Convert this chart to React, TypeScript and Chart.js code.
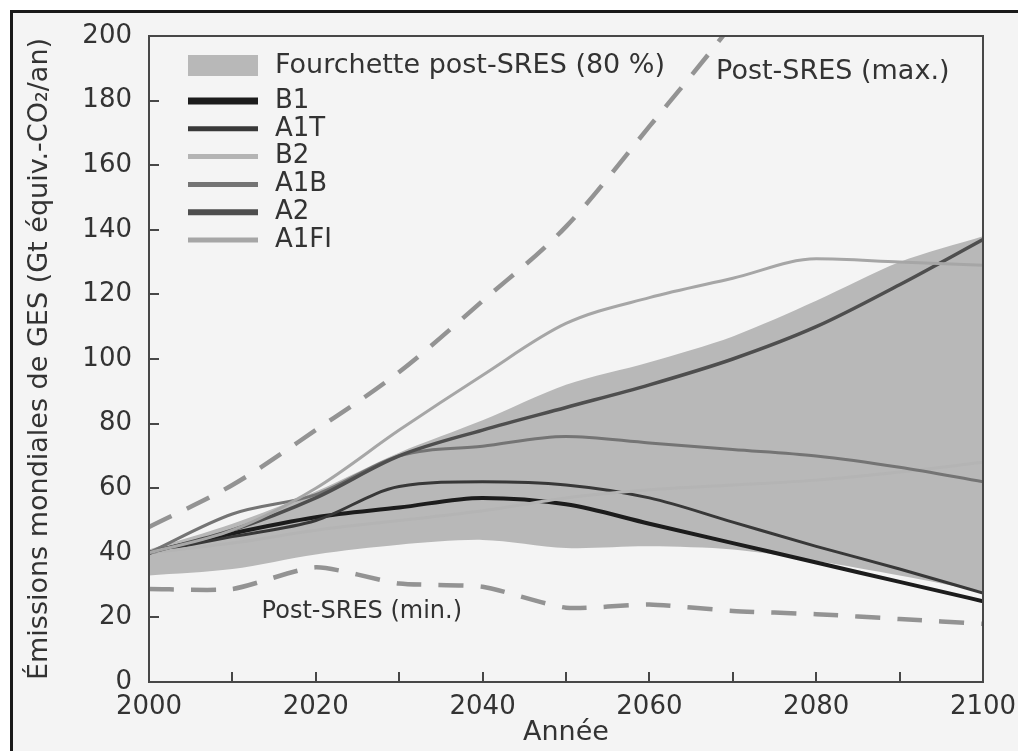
import React, { useEffect, useRef } from "react";
import { Chart, registerables } from "chart.js";

Chart.register(...registerables);

// ---------- data ----------
const years = [2000, 2010, 2020, 2030, 2040, 2050, 2060, 2070, 2080, 2090, 2100];
const bandLower = [33, 35, 39.5, 42.5, 44, 41.5, 42, 41, 37.5, 33, 28];
const bandUpper = [41, 49, 59, 71, 81, 92, 99, 107, 118, 130, 138];
const postSresMax = [48, 61, 78, 96, 118, 141, 172, 204, 240, 280, 320];
const postSresMin = [28.8, 28.8, 35.5, 30.5, 29.5, 23, 24, 22, 21, 19.5, 18];
const b1 = [40, 46, 51, 54, 57, 55, 49, 43, 37, 31, 25];
const a1t = [40, 45, 50, 60.5, 62, 61, 57, 49.5, 42, 35, 27.5];
const b2 = [40, 43, 47, 50, 53, 57, 59.5, 61, 62.5, 65, 68];
const a1b = [40, 52, 58, 70, 73, 76, 74, 72, 70, 66.5, 62];
const a2 = [40, 47, 57, 70, 78, 85, 92, 100, 110, 123, 137];
const a1fi = [40, 47, 60, 78, 95, 111, 119, 125, 131, 130, 129];

const scenarioNames = ["B1", "A1T", "B2", "A1B", "A2", "A1FI"];
const scenarioValues = [b1, a1t, b2, a1b, a2, a1fi];
const xLabelYears = [2000, 2020, 2040, 2060, 2080, 2100];

const bandLabel = "Fourchette post-SRES (80 %)";
const maxLabel = "Post-SRES (max.)";
const minLabel = "Post-SRES (min.)";
const maxLabelPos = [2068, 189];
const minLabelPos = [2013.5, 21.6];
const yTitle = "Émissions mondiales de GES (Gt équiv.-CO₂/an)";
const xTitle = "Année";

// ---------- styles ----------
const scenarioColors = ["#1c1c1c", "#383838", "#b4b4b4", "#747474", "#4e4e4e", "#a6a6a6"];
const scenarioWidths = [4, 3, 3, 3, 3.5, 3];
const legendWidths = [7, 5, 5, 5, 6, 5];
const BAND = "#b8b8b8";
const DASH = "#939393";
const TEXT = "#333333";
const FONT = "'DejaVu Sans', sans-serif";

const pts = (vals: number[]) => years.map((y, i) => ({ x: y, y: vals[i] }));

const overlayPlugin = {
  id: "overlay",
  afterDraw(chart: any) {
    const { ctx, chartArea } = chart;
    const xs = chart.scales.x;
    const ys = chart.scales.y;
    ctx.save();
    // plot frame
    ctx.strokeStyle = "#474747";
    ctx.lineWidth = 2;
    ctx.strokeRect(chartArea.left, chartArea.top, chartArea.right - chartArea.left, chartArea.bottom - chartArea.top);

    // legend
    const lx = chartArea.left + 39;
    const lw = 70;
    const tx = chartArea.left + 126;
    ctx.fillStyle = BAND;
    ctx.fillRect(lx, chartArea.top + 19, lw, 21);
    ctx.font = `27px ${FONT}`;
    ctx.fillStyle = TEXT;
    ctx.textBaseline = "middle";
    ctx.textAlign = "left";
    ctx.fillText(bandLabel, tx, chartArea.top + 30);
    ctx.font = `26px ${FONT}`;
    scenarioNames.forEach((name, i) => {
      const y = chartArea.top + 65 + i * 27.8;
      ctx.strokeStyle = scenarioColors[i];
      ctx.lineWidth = legendWidths[i];
      ctx.lineCap = "butt";
      ctx.beginPath();
      ctx.moveTo(lx, y);
      ctx.lineTo(lx + lw, y);
      ctx.stroke();
      ctx.fillStyle = TEXT;
      ctx.fillText(name, tx, y);
    });

    // annotations
    ctx.font = `27px ${FONT}`;
    ctx.fillText(maxLabel, xs.getPixelForValue(maxLabelPos[0]), ys.getPixelForValue(maxLabelPos[1]));
    ctx.font = `24px ${FONT}`;
    ctx.fillText(minLabel, xs.getPixelForValue(minLabelPos[0]), ys.getPixelForValue(minLabelPos[1]));
    ctx.restore();
  },
};

export default function App() {
  const ref = useRef<HTMLCanvasElement | null>(null);

  useEffect(() => {
    if (!ref.current) return;
    const datasets: any[] = [
      {
        label: "bandLower",
        data: pts(bandLower),
        borderWidth: 0,
        pointRadius: 0,
        fill: false,
        tension: 0.3,
        order: 20,
      },
      {
        label: bandLabel,
        data: pts(bandUpper),
        borderWidth: 0,
        pointRadius: 0,
        backgroundColor: BAND,
        fill: "-1",
        tension: 0.3,
        order: 19,
      },
    ];
    scenarioNames.forEach((name, i) => {
      datasets.push({
        label: name,
        data: pts(scenarioValues[i]),
        borderColor: scenarioColors[i],
        borderWidth: scenarioWidths[i],
        pointRadius: 0,
        fill: false,
        tension: 0.15,
        cubicInterpolationMode: "monotone",
        order: 10 - i,
      });
    });
    datasets.push({
      label: maxLabel,
      data: pts(postSresMax),
      borderColor: DASH,
      borderWidth: 4.5,
      borderDash: [25, 17],
      pointRadius: 0,
      fill: false,
      cubicInterpolationMode: "monotone",
      order: 1,
    });
    datasets.push({
      label: minLabel,
      data: pts(postSresMin),
      borderColor: DASH,
      borderWidth: 4.5,
      borderDash: [25, 17],
      pointRadius: 0,
      fill: false,
      tension: 0.2,
      order: 1,
    });

    const chart = new Chart(ref.current, {
      type: "line",
      data: { datasets },
      plugins: [overlayPlugin],
      options: {
        animation: false,
        responsive: false,
        layout: { padding: { left: 0, right: 35, top: 36, bottom: 0 } },
        plugins: { legend: { display: false }, tooltip: { enabled: false } },
        scales: {
          x: {
            type: "linear",
            min: 2000,
            max: 2100,
            afterFit: (s: any) => {
              s.height = 69;
              s.paddingLeft = 0;
              s.paddingRight = 0;
            },
            ticks: {
              stepSize: 10,
              autoSkip: false,
              maxRotation: 0,
              padding: 20,
              color: TEXT,
              font: { family: FONT, size: 26 },
              callback: (v: any) => (xLabelYears.includes(Number(v)) ? String(v) : ""),
            },
            grid: {
              drawOnChartArea: false,
              drawTicks: true,
              tickLength: -10,
              color: "#474747",
              lineWidth: 2,
            },
            border: { display: true, color: "#474747", width: 2 },
            title: {
              display: true,
              text: xTitle,
              color: TEXT,
              font: { family: FONT, size: 27 },
              padding: { top: 0, bottom: 2 },
            },
          },
          y: {
            type: "linear",
            min: 0,
            max: 200,
            afterFit: (s: any) => {
              s.width = 149;
              s.paddingTop = 0;
              s.paddingBottom = 0;
            },
            ticks: {
              stepSize: 20,
              padding: 27,
              color: TEXT,
              font: { family: FONT, size: 26 },
            },
            grid: {
              drawOnChartArea: false,
              drawTicks: true,
              tickLength: -10,
              color: "#474747",
              lineWidth: 2,
            },
            border: { display: true, color: "#474747", width: 2 },
            title: {
              display: true,
              text: yTitle,
              color: TEXT,
              font: { family: FONT, size: 27 },
              padding: { top: 24, bottom: 0 },
            },
          },
        },
      },
    });
    return () => chart.destroy();
  }, []);

  return (
    <div
      style={{
        position: "fixed",
        left: 0,
        top: 0,
        width: 1018,
        height: 751,
        overflow: "hidden",
        background: "#ffffff",
      }}
    >
      <div
        style={{
          position: "absolute",
          left: 10,
          top: 10,
          width: 1040,
          height: 780,
          border: "3px solid #1a1a1a",
          background: "#f4f4f4",
        }}
      />
      <canvas
        ref={ref}
        width={1018}
        height={751}
        style={{ position: "absolute", left: 0, top: 0, width: 1018, height: 751 }}
      />
    </div>
  );
}
